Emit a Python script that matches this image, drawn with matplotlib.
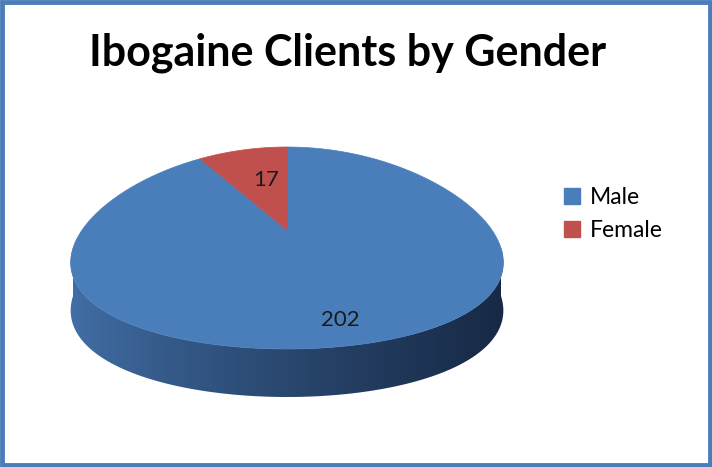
import matplotlib
matplotlib.use("Agg")
import matplotlib.pyplot as plt
import numpy as np
from matplotlib.patches import Polygon, Rectangle, Patch

labels = ["Male", "Female"]
values = [202, 17]
colors = ["#4a7ebb", "#c0504d"]
title = "Ibogaine Clients by Gender"

plt.rcParams["font.family"] = ["Lato", "DejaVu Sans"]

fig = plt.figure(figsize=(7.12, 4.67), dpi=100)
ax = fig.add_axes([0, 0, 1, 1])
ax.set_xlim(0, 712)
ax.set_ylim(467, 0)
ax.axis("off")

# geometry of the tilted pie (pixels)
cx, cy = 287, 248
rx, ry = 214, 101
depth = 48
apex = (287, 230)
k = 0.15  # perspective squeeze towards the back


def rim(phi):
    # phi in degrees, clockwise from 12 o'clock
    p = np.radians(phi)
    x = cx + rx * np.sin(p) * (1 - k * np.cos(p))
    y = cy - ry * np.cos(p)
    return x, y


# side wall with a horizontal gradient
phis = np.linspace(90, 270, 200)
tx, ty = rim(phis)
side = np.concatenate([np.column_stack([tx, ty]),
                       np.column_stack([tx[::-1], ty[::-1] + depth])])
side_poly = Polygon(side, closed=True, facecolor="none", edgecolor="none")
ax.add_patch(side_poly)
left = np.array([0.26, 0.44, 0.66])
right = np.array([0.09, 0.16, 0.27])
t = np.linspace(0, 1, 256)
t = t ** 0.8
grad = left[None, :] * (1 - t[:, None]) + right[None, :] * t[:, None]
grad = np.tile(grad[None, :, :], (2, 1, 1))
im = ax.imshow(grad, extent=[cx - rx - 5, cx + rx + 5, cy + ry + depth + 5, cy - 5],
               aspect="auto", zorder=1, interpolation="bilinear")
im.set_clip_path(side_poly)
ax.set_xlim(0, 712)
ax.set_ylim(467, 0)

# top face wedges
total = sum(values)
start = 0.0
for val, col, lab in zip(values, colors, labels):
    span = 360.0 * val / total
    a = np.linspace(start, start + span, 120)
    wx, wy = rim(a)
    pts = np.vstack([[apex], np.column_stack([wx, wy])])
    ax.add_patch(Polygon(pts, closed=True, facecolor=col, edgecolor=col,
                         linewidth=0.5, zorder=2))
    mid = start + span / 2
    mx, my = rim(mid)
    frac = 0.63 if val / total < 0.2 else 0.78
    lx = apex[0] + frac * (mx - apex[0]) + 7
    ly = apex[1] + frac * (my - apex[1])
    ax.text(lx, ly, str(val), ha="center", va="center", fontsize=16,
            color="#1a1a1a", zorder=3)
    start += span

ax.text(348, 53, title, ha="center", va="center", fontsize=31,
        fontweight="bold", color="black")

handles = [Patch(facecolor=c, edgecolor=c) for c in colors]
ax.legend(handles, labels, loc="center left", bbox_to_anchor=(555 / 712, 1 - 214 / 467),
          frameon=False, fontsize=16.5, handlelength=0.7, handleheight=0.7,
          handletextpad=0.4, labelspacing=0.55, borderaxespad=0)

# chart border
fig.patches.append(Rectangle((0.003, 0.005), 0.994, 0.99, transform=fig.transFigure,
                             fill=False, edgecolor="#4a7ebb", linewidth=3.5))

fig.savefig("out.png", dpi=100)
